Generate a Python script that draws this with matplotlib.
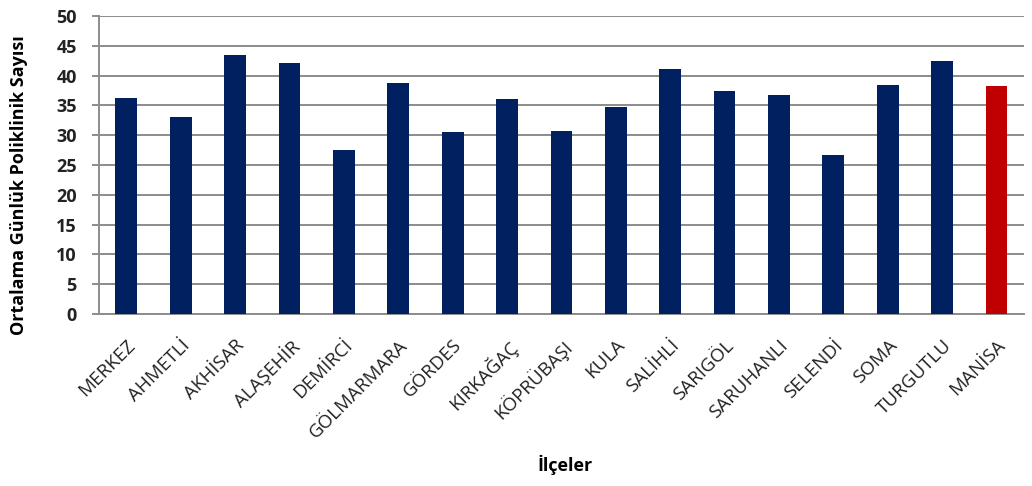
import matplotlib.pyplot as plt

plt.rcParams['font.family'] = ['Open Sans', 'DejaVu Sans']

# district names and average daily outpatient counts
districts = ['MERKEZ', 'AHMETLİ', 'AKHİSAR', 'ALAŞEHİR', 'DEMİRCİ', 'GÖLMARMARA',
             'GÖRDES', 'KIRKAĞAÇ', 'KÖPRÜBAŞI', 'KULA', 'SALİHLİ', 'SARIGÖL',
             'SARUHANLI', 'SELENDİ', 'SOMA', 'TURGUTLU', 'MANİSA']
values = [36.3, 33.1, 43.4, 42.2, 27.6, 38.7, 30.5, 36.1, 30.7, 34.8,
          41.1, 37.4, 36.7, 26.7, 38.4, 42.5, 38.3]
y_ticks = [0, 5, 10, 15, 20, 25, 30, 35, 40, 45, 50]


def main():
    fig = plt.figure(figsize=(10.32, 4.86), dpi=100)
    ax = fig.add_axes([0.096, 0.354, 0.896, 0.613])

    colors = ['#002060'] * (len(districts) - 1) + ['#C00000']
    ax.bar(range(len(districts)), values, width=0.4, color=colors, zorder=3)

    ax.set_ylim(0, 50)
    ax.set_xlim(-0.5, len(districts) - 0.5)
    ax.set_yticks(y_ticks)
    ax.yaxis.grid(True, color='#8c8c8c', linewidth=1.4, zorder=0)

    for side in ['top', 'right']:
        ax.spines[side].set_visible(False)
    for side in ['left', 'bottom']:
        ax.spines[side].set_color('#8c8c8c')
        ax.spines[side].set_linewidth(1.4)

    ax.tick_params(axis='y', length=5, width=1.4, color='#8c8c8c', pad=11)
    ax.tick_params(axis='x', length=0, pad=16)
    for lbl in ax.get_yticklabels():
        lbl.set_fontsize(13)
        lbl.set_fontweight('bold')
        lbl.set_color('#222222')

    ax.set_xticks(range(len(districts)))
    ax.set_xticklabels(districts, rotation=45, ha='right', rotation_mode='anchor',
                       fontsize=13.5, color='#222222')

    fig.text(0.018, 0.62, 'Ortalama Günlük Poliklinik Sayısı', fontsize=13,
             fontweight='bold', rotation=90, ha='center', va='center')
    fig.text(0.548, 0.043, 'İlçeler', fontsize=13, fontweight='bold',
             ha='center', va='center')

    fig.savefig('out.png', dpi=100)


if __name__ == "__main__":
    main()
